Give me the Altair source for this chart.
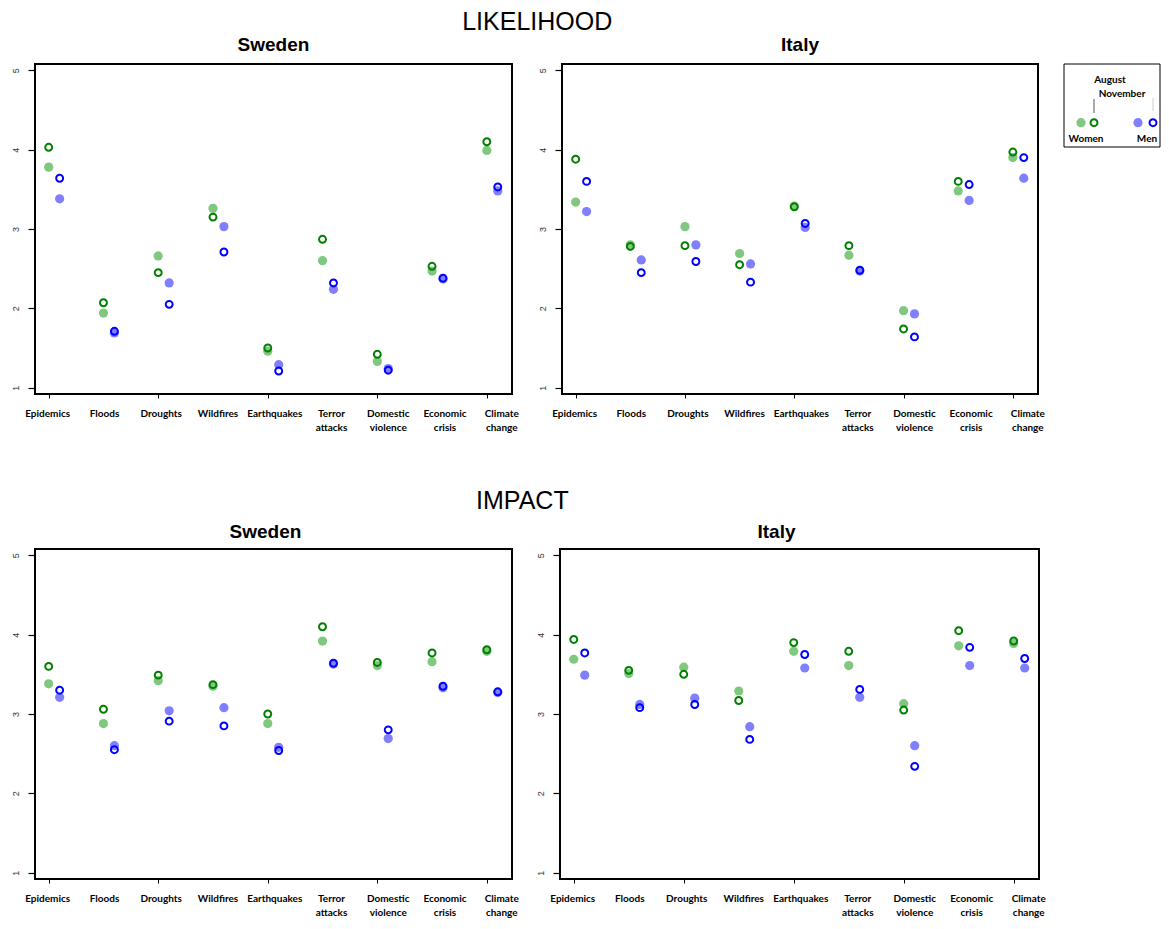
import altair as alt
import pandas as pd

categories = ["Epidemics", "Floods", "Droughts", "Wildfires", "Earthquakes",
              "Terror attacks", "Domestic violence", "Economic crisis", "Climate change"]

# LIKELIHOOD
lik_se_women_aug = [3.78, 1.94, 2.66, 3.26, 1.46, 2.60, 1.33, 2.47, 3.99]
lik_se_women_nov = [4.03, 2.07, 2.45, 3.15, 1.50, 2.87, 1.42, 2.53, 4.10]
lik_se_men_aug = [3.38, 1.69, 2.32, 3.03, 1.29, 2.24, 1.24, 2.37, 3.48]
lik_se_men_nov = [3.64, 1.71, 2.05, 2.71, 1.21, 2.32, 1.22, 2.38, 3.53]
lik_it_women_aug = [3.34, 2.80, 3.03, 2.69, 3.29, 2.67, 1.97, 3.48, 3.90]
lik_it_women_nov = [3.88, 2.78, 2.79, 2.55, 3.28, 2.79, 1.74, 3.60, 3.97]
lik_it_men_aug = [3.22, 2.61, 2.80, 2.56, 3.02, 2.47, 1.93, 3.36, 3.64]
lik_it_men_nov = [3.60, 2.45, 2.59, 2.33, 3.07, 2.48, 1.64, 3.56, 3.90]

# IMPACT
imp_se_women_aug = [3.38, 2.88, 3.42, 3.35, 2.88, 3.92, 3.61, 3.66, 3.79]
imp_se_women_nov = [3.60, 3.06, 3.49, 3.37, 3.00, 4.10, 3.65, 3.77, 3.81]
imp_se_men_aug = [3.21, 2.60, 3.04, 3.08, 2.58, 3.63, 2.69, 3.33, 3.27]
imp_se_men_nov = [3.30, 2.55, 2.91, 2.85, 2.54, 3.64, 2.80, 3.35, 3.28]
imp_it_women_aug = [3.69, 3.51, 3.59, 3.29, 3.79, 3.61, 3.13, 3.86, 3.89]
imp_it_women_nov = [3.94, 3.55, 3.50, 3.17, 3.90, 3.79, 3.05, 4.05, 3.92]
imp_it_men_aug = [3.49, 3.12, 3.20, 2.84, 3.58, 3.21, 2.60, 3.61, 3.58]
imp_it_men_nov = [3.77, 3.08, 3.12, 2.68, 3.75, 3.31, 2.34, 3.84, 3.70]

series = [
    ("LIKELIHOOD", "Sweden", "Women", "August", lik_se_women_aug),
    ("LIKELIHOOD", "Sweden", "Women", "November", lik_se_women_nov),
    ("LIKELIHOOD", "Sweden", "Men", "August", lik_se_men_aug),
    ("LIKELIHOOD", "Sweden", "Men", "November", lik_se_men_nov),
    ("LIKELIHOOD", "Italy", "Women", "August", lik_it_women_aug),
    ("LIKELIHOOD", "Italy", "Women", "November", lik_it_women_nov),
    ("LIKELIHOOD", "Italy", "Men", "August", lik_it_men_aug),
    ("LIKELIHOOD", "Italy", "Men", "November", lik_it_men_nov),
    ("IMPACT", "Sweden", "Women", "August", imp_se_women_aug),
    ("IMPACT", "Sweden", "Women", "November", imp_se_women_nov),
    ("IMPACT", "Sweden", "Men", "August", imp_se_men_aug),
    ("IMPACT", "Sweden", "Men", "November", imp_se_men_nov),
    ("IMPACT", "Italy", "Women", "August", imp_it_women_aug),
    ("IMPACT", "Italy", "Women", "November", imp_it_women_nov),
    ("IMPACT", "Italy", "Men", "August", imp_it_men_aug),
    ("IMPACT", "Italy", "Men", "November", imp_it_men_nov),
]

rows = []
for measure, country, gender, wave, vals in series:
    for i, v in enumerate(vals):
        rows.append({"measure": measure, "country": country, "gender": gender,
                     "wave": wave, "idx": i + 1, "category": categories[i], "value": v})
df = pd.DataFrame(rows)
lab_df = pd.DataFrame({"idx": list(range(1, len(categories) + 1)), "label": categories})

FILL_COLORS = ["#80C880", "#8080FF"]
STROKE_COLORS = ["#008000", "#0000FF"]
LABEL_FONT = "Lato"
TITLE_FONT = "Liberation Sans"
PH = 330


def panel(measure, country, yext, width, title_dx, title_offset):
    base = alt.Chart(df).transform_filter(
        (alt.datum.measure == measure) & (alt.datum.country == country)
    ).transform_calculate(
        xpos="datum.idx + (datum.gender === 'Men' ? 0.2 : 0)"
    )
    xscale = alt.Scale(domain=[0.75, 9.46], nice=False, zero=False)
    x = alt.X(
        "xpos:Q", scale=xscale,
        axis=alt.Axis(
            values=[1, 3, 5, 7, 9], labels=False, title=None, grid=False, domain=False,
            tickSize=4, tickColor="black", tickWidth=1,
        ),
    )
    y = alt.Y(
        "value:Q",
        scale=alt.Scale(domain=[0.92, 5.08], nice=False, zero=False),
        axis=alt.Axis(
            values=[1, 2, 3, 4, 5], format="d", title=None, grid=False, domain=False,
            tickSize=7, tickColor="black", tickWidth=1.2,
            labelAngle=270, labelAlign="center", labelBaseline="bottom",
            labelPadding=8, labelFont=TITLE_FONT, labelFontSize=9, labelColor="#333333",
            labelFlush=False, minExtent=yext, maxExtent=yext,
        ),
    )
    filled = base.transform_filter(alt.datum.wave == "August").mark_circle(
        size=85, opacity=1
    ).encode(
        x=x, y=y,
        fill=alt.Fill("gender:N", scale=alt.Scale(domain=["Women", "Men"], range=FILL_COLORS), legend=None),
    )
    hollow = base.transform_filter(alt.datum.wave == "November").mark_point(
        shape="circle", filled=False, size=48, strokeWidth=2, opacity=1
    ).encode(
        x=x, y=y,
        stroke=alt.Stroke("gender:N", scale=alt.Scale(domain=["Women", "Men"], range=STROKE_COLORS), legend=None),
    )
    # category labels are spread a little wider than the data positions, as in the original
    labels = alt.Chart(lab_df).transform_calculate(
        lpos="datum.idx * 1.0364 - 0.0544"
    ).mark_text(
        font=LABEL_FONT, fontWeight="bold", fontSize=10, color="black",
        align="center", baseline="top", lineBreak=" ", lineHeight=14,
    ).encode(
        x=alt.X("lpos:Q", scale=xscale),
        y=alt.value(PH + 15),
        text="label:N",
    )
    return alt.layer(filled, hollow, labels).properties(
        width=width, height=PH,
        view=alt.ViewBackground(stroke="black", strokeWidth=2),
        title=alt.TitleParams(country, font=TITLE_FONT, fontSize=19, fontWeight="bold",
                              color="black", anchor="middle", frame="group",
                              dx=title_dx, offset=title_offset),
    )


# legend (drawn as a small stand-alone panel; its box starts 24px left of its view)
leg_box_x = [0]
leg_box_x2 = [96]
leg_box_y = [0]
leg_box_y2 = [83]
leg_dot_x = [17, 74]
leg_ring_x = [30, 89]
leg_gender = ["Women", "Men"]
leg_text = ["August", "November", "Women", "Men"]
leg_text_x = [46, 58, 22, 83]
leg_text_y = [16, 30, 75, 75]
leg_line_x = [30, 89]
leg_line_y = [35, 34]
leg_line_y2 = [49, 47]
leg_line_color = ["#555555", "#CCCCCC"]

lx = alt.Scale(domain=[24, 96], nice=False, zero=False)
ly = alt.Scale(domain=[0, 83], nice=False, zero=False, reverse=True)

leg_box = alt.Chart(pd.DataFrame({"x": leg_box_x, "x2": leg_box_x2, "y": leg_box_y, "y2": leg_box_y2})).mark_rect(
    fill="white", stroke="black", strokeWidth=1
).encode(
    x=alt.X("x:Q", scale=lx, axis=None), x2="x2:Q",
    y=alt.Y("y:Q", scale=ly, axis=None), y2="y2:Q",
)
leg_dots = alt.Chart(pd.DataFrame({"x": leg_dot_x, "y": [58.7, 58.7], "g": leg_gender})).mark_circle(
    size=85, opacity=1
).encode(
    x=alt.X("x:Q", scale=lx, axis=None), y=alt.Y("y:Q", scale=ly, axis=None),
    fill=alt.Fill("g:N", scale=alt.Scale(domain=["Women", "Men"], range=FILL_COLORS), legend=None),
)
leg_rings = alt.Chart(pd.DataFrame({"x": leg_ring_x, "y": [58.7, 58.7], "g": leg_gender})).mark_point(
    shape="circle", filled=False, size=48, strokeWidth=2, opacity=1
).encode(
    x=alt.X("x:Q", scale=lx, axis=None), y=alt.Y("y:Q", scale=ly, axis=None),
    stroke=alt.Stroke("g:N", scale=alt.Scale(domain=["Women", "Men"], range=STROKE_COLORS), legend=None),
)
leg_texts = alt.Chart(pd.DataFrame({"x": leg_text_x, "y": leg_text_y, "t": leg_text})).mark_text(
    font=LABEL_FONT, fontWeight="bold", fontSize=10, color="black", align="center", baseline="middle"
).encode(
    x=alt.X("x:Q", scale=lx, axis=None), y=alt.Y("y:Q", scale=ly, axis=None), text="t:N"
)
leg_lines = alt.Chart(pd.DataFrame({"x": leg_line_x, "y": leg_line_y, "y2": leg_line_y2,
                                    "c": leg_line_color})).mark_rule(strokeWidth=1).encode(
    x=alt.X("x:Q", scale=lx, axis=None), y=alt.Y("y:Q", scale=ly, axis=None), y2="y2:Q",
    color=alt.Color("c:N", scale=None, legend=None),
)
legend = alt.layer(leg_box, leg_lines, leg_dots, leg_rings, leg_texts).properties(
    width=72, height=83,
    view=alt.ViewBackground(stroke=None, strokeWidth=0),
)

row1 = alt.hconcat(
    panel("LIKELIHOOD", "Sweden", 26, 477, 0, 9),
    panel("LIKELIHOOD", "Italy", 26, 476, 0, 9),
    legend,
    spacing=50, bounds="flush",
    title=alt.TitleParams("LIKELIHOOD", font=TITLE_FONT, fontSize=25, fontWeight="normal",
                          color="black", anchor="middle", dx=-47, offset=0),
)
row2 = alt.hconcat(
    panel("IMPACT", "Sweden", 23, 477, -8, 7),
    panel("IMPACT", "Italy", 23, 479, -23, 7),
    spacing=48, bounds="flush",
    title=alt.TitleParams("IMPACT", font=TITLE_FONT, fontSize=25, fontWeight="normal",
                          color="black", anchor="middle", dx=-6, offset=8),
)

chart = alt.vconcat(row1, row2, spacing=55).properties(
    padding={"left": 0, "top": 2, "right": 0, "bottom": 0}
).configure(background="white")

chart.save("out.html", embed_options={"renderer": "svg", "actions": False})
